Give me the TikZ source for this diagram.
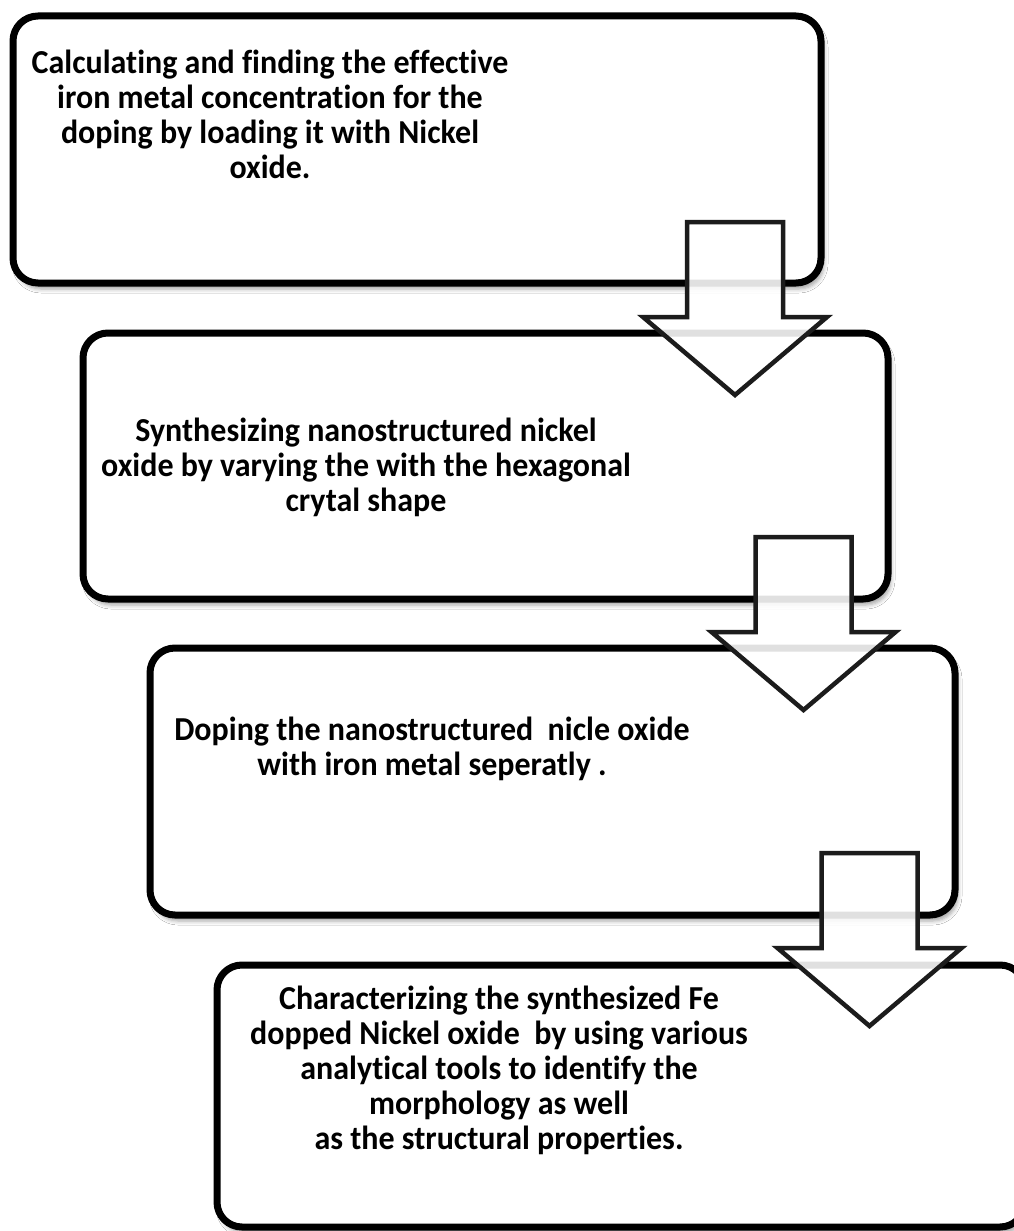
\documentclass[tikz,border=0pt]{standalone}
\usepackage{fontspec}
\setmainfont{Carlito}[Ligatures=NoCommon, FakeStretch=0.955]
\usetikzlibrary{shadows,shadows.blur}
\definecolor{arrowline}{HTML}{1C1C1C}
\tikzset{
  stepbox/.style={draw=black, line width=7pt, fill=white, rounded corners=25pt,
    inner sep=0pt, outer sep=0pt,
    blur shadow={shadow xshift=3pt, shadow yshift=-6pt, shadow blur radius=4pt, shadow opacity=35}},
  steptext/.style={align=center, inner sep=0pt, anchor=north,
    font=\fontsize{33.5}{35}\selectfont\bfseries},
  arrowshape/.style={draw=arrowline, line width=4.5pt, fill=white, fill opacity=0.88, line join=miter},
  pics/flowarrow/.style={code={
    \draw[arrowshape] (-48,0) -- (48,0) -- (48,95) -- (92,95) -- (0,173)
      -- (-92,95) -- (-48,95) -- cycle;}}
}
\begin{document}
\begin{tikzpicture}[x=1pt, y=-1pt]
\useasboundingbox (0,0) rectangle (1014,1231);
\fill[white] (0,0) rectangle (1014,1231);
% boxes
\node[stepbox, minimum width=808pt, minimum height=267pt] (b1) at (417,149.5) {};
\node[stepbox, minimum width=805pt, minimum height=266pt] (b2) at (485.5,466) {};
\node[stepbox, minimum width=805pt, minimum height=267pt] (b3) at (552.5,781.5) {};
\node[stepbox, minimum width=808pt, minimum height=262pt] (b4) at (621,1096) {};
% texts
\node[steptext] (t1) at (270,50) {Calculating and finding the effective\\iron metal concentration for the\\doping by loading it with Nickel\\oxide.};
\node[steptext] (t2) at (366,418) {Synthesizing nanostructured nickel\\oxide by varying the with the hexagonal\\crytal shape};
\node[steptext] (t3) at (432,716.5) {Doping the nanostructured\ \ nicle oxide\\with iron metal seperatly .};
\node[steptext] (t4) at (499,986) {Characterizing the synthesized Fe\\dopped Nickel oxide\ \ by using various\\analytical tools to identify the\\morphology as well\\as the structural properties.};
% arrows
\pic at (735,222) {flowarrow};
\pic at (803.5,537) {flowarrow};
\pic at (869.5,853) {flowarrow};
\end{tikzpicture}
\end{document}
